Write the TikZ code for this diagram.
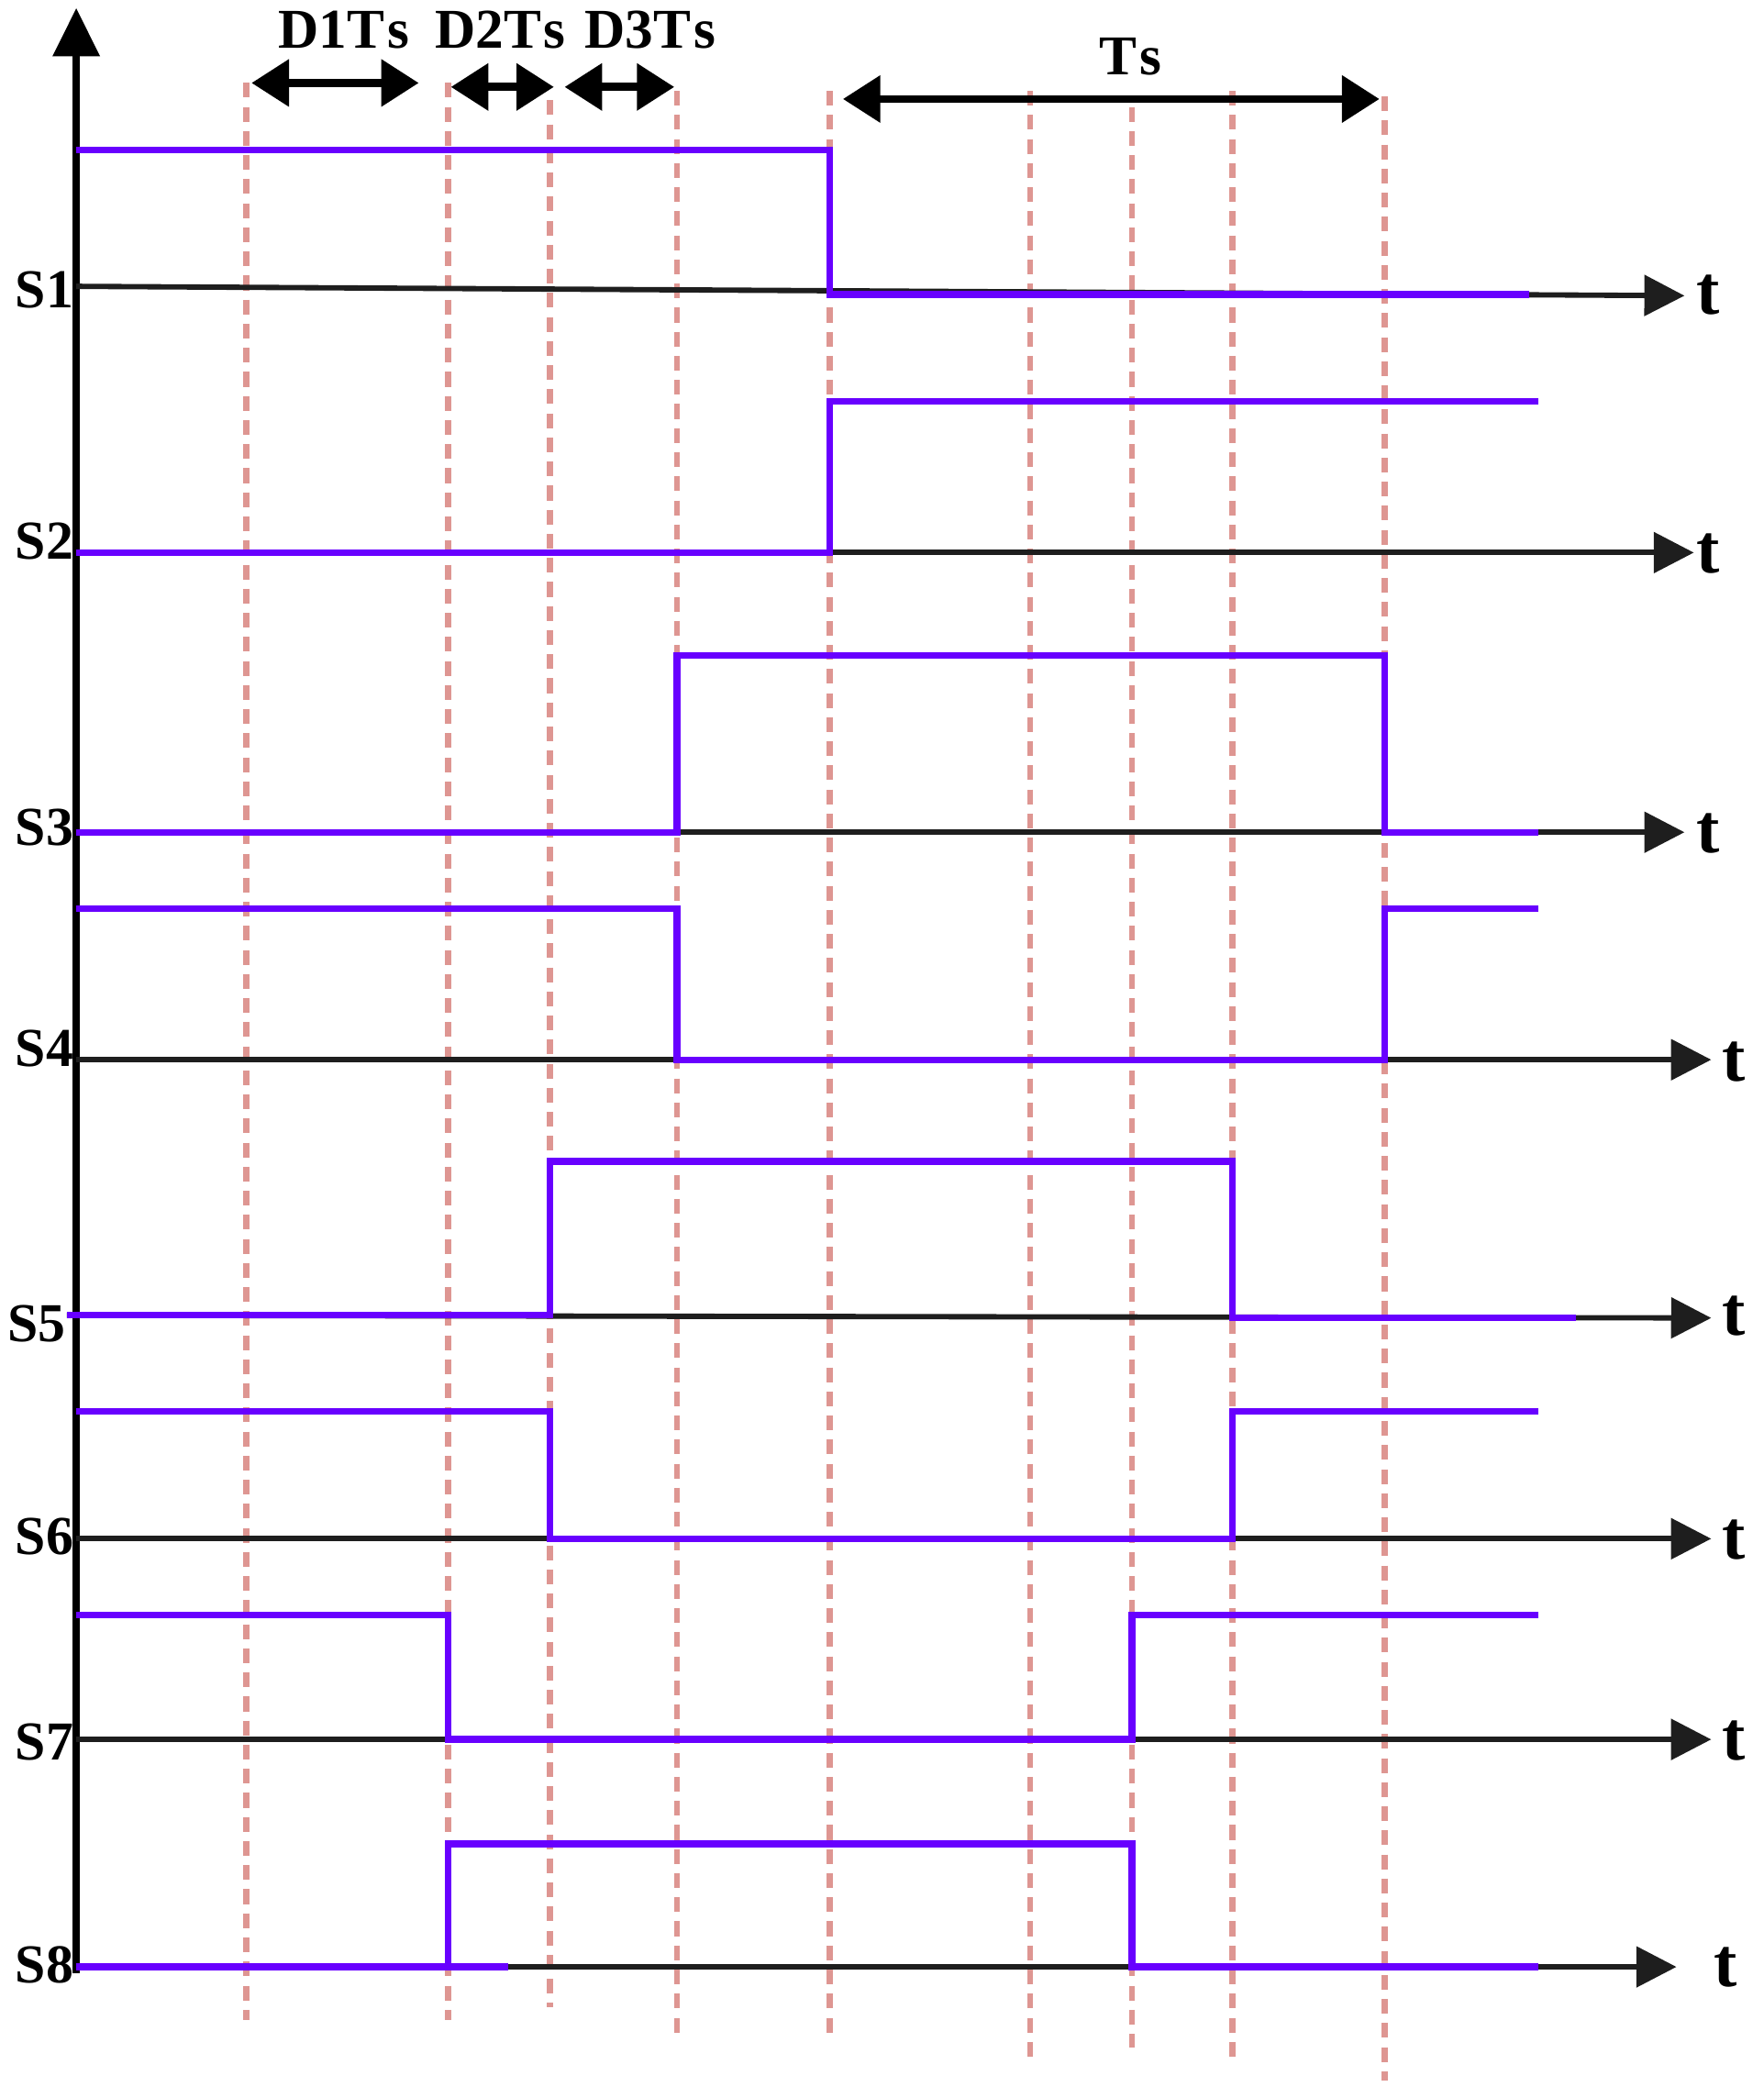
\documentclass[tikz,border=0pt]{standalone}
\usepackage{fontspec}
\setmainfont{Liberation Serif}
\usetikzlibrary{arrows.meta}
\definecolor{wavec}{RGB}{104,0,255}
\definecolor{gridc}{RGB}{222,150,146}
\definecolor{axc}{RGB}{30,30,30}
\tikzset{
  taxis/.style={line width=4pt, axc, -{Triangle[length=30pt,width=30pt]}},
  vaxis/.style={line width=5.5pt, black, -{Triangle[length=36pt,width=34pt]}},
  wave/.style={line width=5pt, wavec, line join=miter},
  gridln/.style={line width=4.5pt, gridc, dash pattern=on 11pt off 7pt},
  span/.style={line width=6pt, black, {Triangle[length=28pt,width=34pt]}-{Triangle[length=28pt,width=34pt]}},
  slab/.style={font=\fontsize{41}{41}\selectfont\bfseries, inner sep=0pt, anchor=base east},
  dlab/.style={font=\fontsize{42}{42}\selectfont\bfseries, inner sep=0pt, anchor=base},
  tlab/.style={font=\fontsize{52}{52}\selectfont\bfseries, inner sep=0pt, anchor=base west}
}
\begin{document}
\begin{tikzpicture}[x=1pt,y=-1pt]
\useasboundingbox (0,0) rectangle (1318,1568);
% dashed time marks
\foreach \xx/\ya/\yb in {184/62/1510,335/62/1510,411/75/1500,506/68/1520,620/68/1520,770/68/1540,846/80/1530,921/68/1540,1035/72/1555}
  \draw[gridln] (\xx,\ya) -- (\xx,\yb);
% vertical axis
\coordinate (vb) at (57,1475);
\coordinate (vt) at (57,6);
\draw[vaxis] (vb) -- (vt);
% time axes
\coordinate (a1l) at (57,214); \coordinate (a1r) at (1259,221);
\coordinate (a2l) at (57,413); \coordinate (a2r) at (1266,413);
\coordinate (a3l) at (57,622); \coordinate (a3r) at (1259,622);
\coordinate (a4l) at (57,792); \coordinate (a4r) at (1279,792);
\coordinate (a5l) at (50,983); \coordinate (a5r) at (1279,985);
\coordinate (a6l) at (57,1150); \coordinate (a6r) at (1279,1150);
\coordinate (a7l) at (57,1300); \coordinate (a7r) at (1279,1300);
\coordinate (a8l) at (57,1470); \coordinate (a8r) at (1253,1470);
\foreach \i in {1,...,8} \draw[taxis] (a\i l) -- (a\i r);
% waveforms
\draw[wave] (57,112) -- (620,112) -- (620,220) -- (1143,220);
\draw[wave] (57,413) -- (620,413) -- (620,300) -- (1150,300);
\draw[wave] (57,622) -- (506,622) -- (506,490) -- (1035,490) -- (1035,622) -- (1150,622);
\draw[wave] (57,679) -- (506,679) -- (506,792) -- (1035,792) -- (1035,679) -- (1150,679);
\draw[wave] (50,983) -- (411,983) -- (411,868) -- (921,868) -- (921,985) -- (1178,985);
\draw[wave] (57,1055) -- (411,1055) -- (411,1150) -- (921,1150) -- (921,1055) -- (1150,1055);
\draw[wave] (57,1207) -- (335,1207) -- (335,1300) -- (846,1300) -- (846,1207) -- (1150,1207);
\draw[wave] (57,1470) -- (380,1470);
\draw[wave] (335,1470) -- (335,1378) -- (846,1378) -- (846,1470) -- (1150,1470);
% duration arrows
\coordinate (d1a) at (188,62); \coordinate (d1b) at (313,62);
\coordinate (d2a) at (337,65); \coordinate (d2b) at (414,65);
\coordinate (d3a) at (422,65); \coordinate (d3b) at (504,65);
\coordinate (tsa) at (630,74); \coordinate (tsb) at (1031,74);
\draw[span] (d1a) -- (d1b);
\draw[span] (d2a) -- (d2b);
\draw[span] (d3a) -- (d3b);
\draw[span] (tsa) -- (tsb);
\node[dlab] (ld1) at (257,36) {D1T\kern2pt s};
\node[dlab] (ld2) at (374,36) {D2T\kern2pt s};
\node[dlab] (ld3) at (486,36) {D3T\kern2pt s};
\node[dlab] (lts) at (845,56) {T\kern2pt s};
% signal labels
\node[slab] (s1) at (55,230) {S1};
\node[slab] (s2) at (55,418) {S2};
\node[slab] (s3) at (55,632) {S3};
\node[slab] (s4) at (55,797) {S4};
\node[slab] (s5) at (49,1003) {S5};
\node[slab] (s6) at (55,1162) {S6};
\node[slab] (s7) at (55,1315) {S7};
\node[slab] (s8) at (55,1482) {S8};
% t labels
\node[tlab] (t1) at (1268,235) {t};
\node[tlab] (t2) at (1268,428) {t};
\node[tlab] (t3) at (1268,637) {t};
\node[tlab] (t4) at (1287,808) {t};
\node[tlab] (t5) at (1287,998) {t};
\node[tlab] (t6) at (1287,1165) {t};
\node[tlab] (t7) at (1287,1315) {t};
\node[tlab] (t8) at (1281,1485) {t};
\end{tikzpicture}
\end{document}
